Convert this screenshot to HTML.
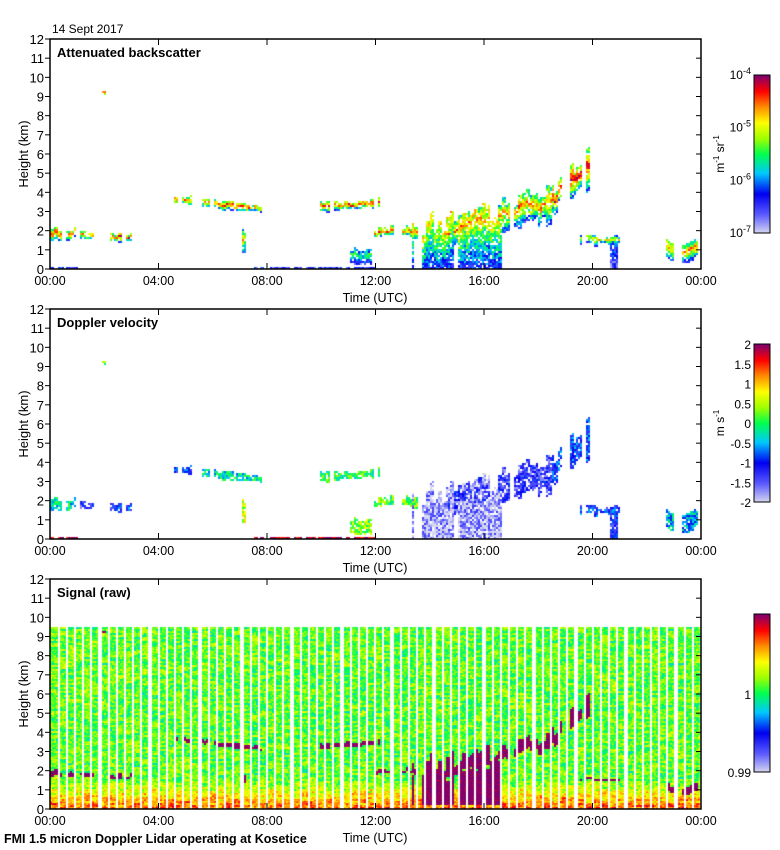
<!DOCTYPE html>
<html><head><meta charset="utf-8"><style>
body{margin:0;background:#fff;}
#wrap{position:relative;width:780px;height:850px;overflow:hidden;font-family:"Liberation Sans",sans-serif;}
canvas,svg{position:absolute;left:0;top:0;}
</style></head><body>
<div id="wrap">
<canvas id="cv" width="780" height="850"></canvas>
<svg id="sv" width="780" height="850"></svg>
</div>
<script>
// layer data: start hour, end hour, base km (start/end), top km (start/end), strength, velocity, mode
const layerStart=[0.0,1.1,2.2,1.9,4.5,5.6,7.0,9.9,11.8,13.3,14.5,18.5,20.6,22.5,7.5,0.0,19.5,11.0];
const layerEnd  =[0.9,1.6,3.0,2.0,5.2,7.9,7.3,12.1,13.5,16.6,18.5,20.3,20.9,24.0,12.0,1.0,21.0,11.8];
const layerBase0=[1.6,1.6,1.5,9.1,3.4,3.2,1.0,3.0,1.7,0.0,1.2,3.0,0.0,0.5,0.0,0.0,1.3,0.3];
const layerBase1=[1.6,1.6,1.5,9.1,3.4,3.0,1.0,3.2,1.7,0.0,2.6,4.8,0.0,0.5,0.0,0.0,1.3,0.3];
const layerTop0 =[2.3,2.0,1.9,9.4,3.9,3.7,2.0,3.5,2.2,2.4,2.6,4.2,1.7,1.5,0.15,0.12,1.8,1.0];
const layerTop1 =[2.1,2.0,1.9,9.4,3.9,3.3,2.0,3.7,2.2,3.0,4.3,6.9,1.7,1.5,0.15,0.12,1.8,1.0];
const layerPeak =[0.9,0.85,0.9,0.9,0.85,0.9,0.75,0.9,0.85,0.7,0.8,0.92,0.35,0.8,0.25,0.25,0.7,0.5];
const layerVel  =[-0.3,-1.2,-1.0,0.2,-1.0,-0.3,0.5,0.0,0.2,-1.8,-1.3,-0.9,-1.2,-0.5,1.9,1.9,-1.0,0.3];
const layerMode =[0,0,0,0,0,0,0,0,0,1,0,0,1,0,1,1,0,0];
const xTicks=["00:00","04:00","08:00","12:00","16:00","20:00","00:00"];
const yTicks=[0,1,2,3,4,5,6,7,8,9,10,11,12];
const bscLabels=["-4","-5","-6","-7"];
const velLabels=["2","1.5","1","0.5","0","-0.5","-1","-1.5","-2"];
const panelTitles=["Attenuated backscatter","Doppler velocity","Signal (raw)"];

const X0=50,X1=701,PH=230,panelTops=[39,309,579];
const xOf=h=>X0+h/24*(X1-X0);
const yOf=(k,t)=>t+PH*(1-k/12);
const stops=[[0,[216,216,240]],[0.12,[90,90,255]],[0.25,[0,0,240]],[0.38,[0,200,255]],[0.5,[0,255,80]],[0.6,[160,255,0]],[0.7,[255,255,0]],[0.8,[255,140,0]],[0.9,[255,0,0]],[1,[128,0,110]]];
function cmap(v){v=Math.max(0,Math.min(1,v));for(let i=1;i<stops.length;i++){if(v<=stops[i][0]){const a=stops[i-1],b=stops[i],f=(v-a[0])/(b[0]-a[0]);return `rgb(${a[1].map((c,j)=>Math.round(c+(b[1][j]-c)*f)).join(',')})`;}}return 'rgb(128,0,110)';}
function hash(a,b){let n=(a*374761393+b*668265263)|0;n=(n^(n>>>13))*1274126177|0;return ((n^(n>>>16))>>>0)/4294967295;}

const cv=document.getElementById('cv'),ctx=cv.getContext('2d');
const C=2;
function layerAt(h,k,col){
  let best=null;
  for(let i=0;i<layerStart.length;i++){
    if(h<layerStart[i]||h>layerEnd[i])continue;
    if(hash(col,i*17+3)<0.15)continue;
    const f=(h-layerStart[i])/(layerEnd[i]-layerStart[i]||1);
    let b=layerBase0[i]+(layerBase1[i]-layerBase0[i])*f, t=layerTop0[i]+(layerTop1[i]-layerTop0[i])*f;
    const th=t-b;
    if(!layerMode[i]||i===9){t+=(hash(col,i*31)-0.55)*th*0.5; if(!layerMode[i]) b+=(hash(col,i*53)-0.35)*th*0.4;}
    if(k<b||k>t)continue;
    const r=(k-b)/(t-b||1);
    let s=layerMode[i]?layerPeak[i]*(0.3+0.7*r):layerPeak[i]*(1-Math.abs(r-0.6)*1.2);
    if(!best||s>best.s)best={i,s,r};
  }
  return best;
}
for(let px=X0;px<X1;px+=C){
  const h=(px-X0)/(X1-X0)*24;
  const col=Math.floor((px-X0)/8.35), inGap=((px-X0)%8.35)>6.0;
  const sub=Math.floor((px-X0)/4);
  for(let py=0;py<PH;py+=C){
    const k=12*(1-py/PH);
    const n=hash(px,py), L=layerAt(h,k,sub);
    if(L&&hash(px*3,py*7)>0.15){
      ctx.fillStyle=cmap(L.s+(n-0.5)*0.25);
      ctx.fillRect(px,panelTops[0]+py,C,C);
      let v=layerVel[L.i]+(hash(px,py+999)-0.5)*1.0;
      ctx.fillStyle=cmap((v+2)/4);
      ctx.fillRect(px,panelTops[1]+py,C,C);
    }
    if(k<=9.6&&!inGap){
      let val;
      if(L&&(L.s>0.62||(L.i===9&&k>0.3&&L.r<0.9))) val=1;
      else{
        val=0.555+(hash(col,py)-0.5)*0.14+(n-0.5)*0.13;
        if(k<1.6) val+=(1.6-k)/1.6*0.3;
      }
      ctx.fillStyle=cmap(val);
      ctx.fillRect(px,panelTops[2]+py,C,1);
      ctx.fillStyle=cmap(val+(hash(px+7,py+3)-0.5)*0.12);
      ctx.fillRect(px,panelTops[2]+py+1,C,1);
    }
  }
}
// colorbars
const CBX=754,CBW=16;
const cbTops=[75,344,614],cbH=158;
for(let p=0;p<3;p++){for(let y=0;y<cbH;y++){ctx.fillStyle=cmap(1-y/cbH);ctx.fillRect(CBX,cbTops[p]+y,CBW,1);}}

const NS='http://www.w3.org/2000/svg',sv=document.getElementById('sv');
function el(tag,attrs,txt){const e=document.createElementNS(NS,tag);for(const a in attrs)e.setAttribute(a,attrs[a]);if(txt!==undefined)e.textContent=txt;sv.appendChild(e);return e;}
const t0=el('text',{x:52,y:33,'font-size':12},"14 Sept 2017");


for(let p=0;p<3;p++){
  const T=panelTops[p];
  const r=el('rect',{x:X0,y:T,width:X1-X0,height:PH,fill:'none',stroke:'#000','stroke-width':1.5});
  
  
  yTicks.forEach(k=>{const y=yOf(k,T);
    el('line',{x1:X0-5,x2:X0,y1:y,y2:y,stroke:'#000'});
    el('line',{x1:X1-5,x2:X1,y1:y,y2:y,stroke:'#000'});
    const tx=el('text',{x:X0-6,y:y+5,'font-size':13,'text-anchor':'end'},String(k));
    
    
  });
  xTicks.forEach((lab,i)=>{const x=xOf(i*4);
    el('line',{x1:x,x2:x,y1:T,y2:T+6,stroke:'#000'});
    el('line',{x1:x,x2:x,y1:T+PH,y2:T+PH-6,stroke:'#000'});
    const tx=el('text',{x:x,y:T+PH+16,'font-size':12.5,'text-anchor':'middle'},lab);
    
    
  });
  const xt=el('text',{x:375,y:T+PH+33,'font-size':12.5,'text-anchor':'middle'},"Time (UTC)");
  
  
  const yt=el('text',{x:0,y:0,'font-size':13,'text-anchor':'middle',transform:`translate(28,${T+PH/2}) rotate(-90)`},"Height (km)");
  
  
  const pt=el('text',{x:57,y:T+18,'font-size':13,'font-weight':'bold'},panelTitles[p]);
  
  
  const cb=el('rect',{x:CBX,y:cbTops[p],width:CBW,height:cbH,fill:'none',stroke:'#000'});
  
  
}
bscLabels.forEach((e,i)=>{const y=cbTops[0]+i*cbH/3;
  const t=el('text',{x:751,y:y+4,'font-size':12,'text-anchor':'end'});
  t.innerHTML=`10<tspan dy="-5" font-size="9">${e}</tspan>`;
  
  
});
velLabels.forEach((l,i)=>{const y=cbTops[1]+i*cbH/8;
  const t=el('text',{x:751,y:y+5,'font-size':12,'text-anchor':'end'},l);
  
  
});
[["1",cbTops[2]+80],["0.99",cbTops[2]+cbH]].forEach(a=>{
  const t=el('text',{x:751,y:a[1]+5,'font-size':12,'text-anchor':'end'},a[0]);
  
  
});
const u1=el('text',{x:0,y:0,'font-size':12,'text-anchor':'middle',transform:`translate(724,${cbTops[0]+cbH/2}) rotate(-90)`});
u1.innerHTML='m<tspan dy="-5" font-size="8">-1</tspan><tspan dy="5"> sr</tspan><tspan dy="-5" font-size="8">-1</tspan>';


const u2=el('text',{x:0,y:0,'font-size':12,'text-anchor':'middle',transform:`translate(724,${cbTops[1]+cbH/2}) rotate(-90)`});
u2.innerHTML='m s<tspan dy="-5" font-size="8">-1</tspan>';


const ft=el('text',{x:4,y:843,'font-size':12.5,'font-weight':'bold'},"FMI 1.5 micron Doppler Lidar operating at Kosetice");


</script>
</body></html>
